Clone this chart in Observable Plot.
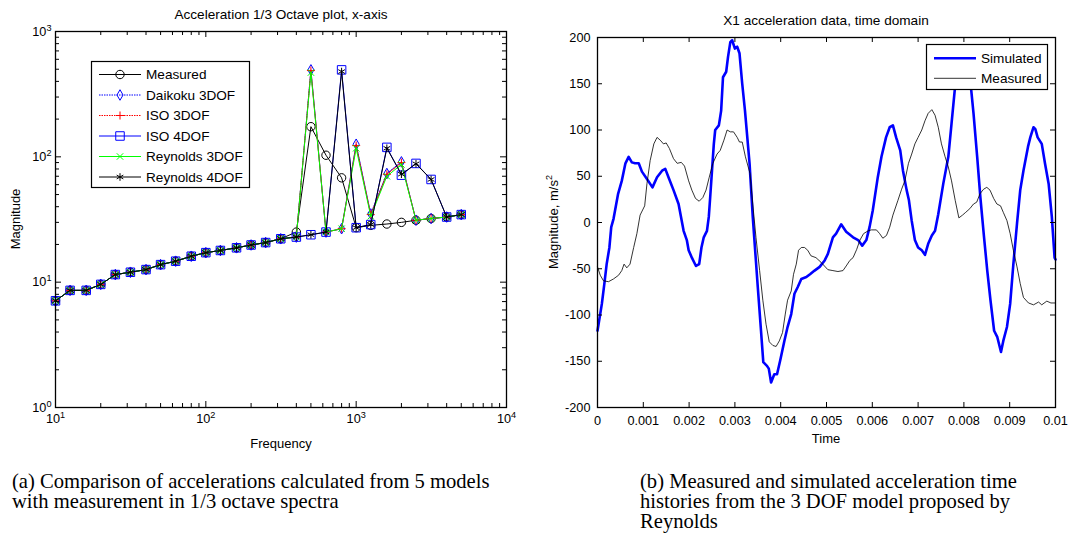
<!DOCTYPE html>
<html><head><meta charset="utf-8">
<script src="https://cdn.jsdelivr.net/npm/d3@7"></script>
<script src="https://cdn.jsdelivr.net/npm/@observablehq/plot@0.6"></script>
<style>
body{margin:0;background:#fff;}
#fig{position:relative;width:1069px;height:535px;overflow:hidden;background:#fff;font-family:"Liberation Sans",Arial,sans-serif;color:#000;}
.abs{position:absolute;white-space:nowrap;}
.ttl{font-size:13.6px;transform:translate(-50%,-50%);}
.lbl{font-size:13px;transform:translate(-50%,-50%);}
.vlbl{font-size:13px;transform:translate(-50%,-50%) rotate(-90deg);}
.cap{font-family:"Liberation Serif","Times New Roman",serif;font-size:20.6px;line-height:20px;}
sup{font-size:0.7em;line-height:0;}
</style></head><body><div id="fig"></div>
<script>
// ---------- Left panel data (1/3 octave spectra) ----------
const freq      = [10,12.5,16,20,25,31.5,40,50,63,80,100,125,160,200,250,315,400,500,630,800,1000,1250,1600,2000,2500,3150,4000,5000];
const measured  = [7.1,8.6,8.6,9.6,11.5,12.0,12.6,13.8,14.7,16.1,17.2,17.9,18.8,19.8,20.7,22.2,25.1,174,103,68,27.2,28.4,29.1,30.0,31.2,32.2,33.1,34.6];
const daikoku3  = [7.1,8.6,8.6,9.6,11.5,12.0,12.6,13.8,14.7,16.1,17.2,17.9,18.8,19.8,20.7,22.2,22.9,494,25.1,26.7,126,35.0,73.6,91.2,31.2,32.2,33.1,34.6];
const iso3      = [7.1,8.6,8.6,9.6,11.5,12.0,12.6,13.8,14.7,16.1,17.2,17.9,18.8,19.8,20.7,22.2,22.9,488,25.1,26.7,123,34.6,72.5,90.0,31.2,32.2,33.1,34.6];
const iso4      = [7.1,8.6,8.6,9.6,11.5,12.0,12.6,13.8,14.7,16.1,17.2,17.9,18.8,19.8,20.7,22.2,22.9,23.9,25.1,494,27.2,28.8,119,71.4,88.6,66.0,33.1,34.6];
const reynolds3 = [7.1,8.6,8.6,9.6,11.5,12.0,12.6,13.8,14.7,16.1,17.2,17.9,18.8,19.8,20.7,22.2,22.9,470,25.1,26.7,117,33.6,70.0,87.0,31.2,32.2,33.1,34.6];
const reynolds4 = [7.1,8.6,8.6,9.6,11.5,12.0,12.6,13.8,14.7,16.1,17.2,17.9,18.8,19.8,20.7,22.2,22.9,23.9,25.1,479,27.2,28.8,117,72.7,88.0,66.0,33.1,34.6];
const freqTicks = [10,100,1000,10000];
const magTicks  = [1,10,100,1000];

// ---------- Right panel data (time domain, time in ms, accel in m/s^2) ----------
const simTimeMs = [0,0.095,0.15,0.2,0.26,0.30,0.35,0.45,0.53,0.61,0.68,0.75,0.82,0.90,0.97,1.08,1.20,1.30,1.41,1.48,1.55,1.66,1.77,1.88,1.95,1.99,2.06,2.15,2.22,2.27,2.32,2.39,2.43,2.46,2.50,2.54,2.57,2.65,2.70,2.74,2.81,2.85,2.90,2.94,3.00,3.05,3.10,3.16,3.22,3.32,3.39,3.50,3.57,3.62,3.70,3.74,3.79,3.86,3.92,3.99,4.08,4.15,4.23,4.30,4.37,4.45,4.56,4.64,4.74,4.85,4.96,5.03,5.14,5.21,5.32,5.43,5.58,5.69,5.78,5.87,5.94,6.01,6.12,6.20,6.30,6.38,6.45,6.52,6.61,6.67,6.75,6.80,6.86,6.93,7.00,7.08,7.15,7.22,7.30,7.37,7.44,7.55,7.66,7.73,7.80,7.88,7.97,8.06,8.16,8.21,8.29,8.36,8.44,8.51,8.58,8.66,8.73,8.81,8.86,8.94,9.01,9.08,9.16,9.23,9.30,9.40,9.45,9.52,9.56,9.61,9.70,9.77,9.85,9.92,9.98,10.0];
const simAccel  = [-117,-88,-66,-45,-27,-5,4,31,45,64,71,65,64,64,55,47,38,49,56,58,49,35,20,-9,-19,-30,-38,-47,-45,-27,-16,-9,6,27,56,85,100,105,121,157,163,179,195,197,188,190,183,150,121,64,6,-70,-117,-151,-155,-158,-173,-164,-164,-149,-128,-113,-99,-77,-70,-61,-59,-56,-52,-48,-41,-34,-16,-12,-2,-10,-16,-19,-25,-19,-5,13,49,71,92,103,105,92,78,56,35,24,2,-19,-27,-30,-35,-23,-14,-9,9,42,71,107,143,172,182,172,143,118,71,27,-16,-52,-84,-117,-124,-140,-128,-113,-88,-45,-1,35,56,82,92,103,101,92,85,64,42,6,-38,-40];
const measTimeMs = [0,0.06,0.13,0.24,0.35,0.46,0.53,0.58,0.64,0.71,0.79,0.86,0.93,1.03,1.08,1.15,1.23,1.30,1.37,1.44,1.50,1.57,1.66,1.74,1.83,1.90,1.99,2.06,2.14,2.22,2.30,2.37,2.44,2.52,2.61,2.68,2.76,2.83,2.90,2.97,3.05,3.10,3.16,3.23,3.33,3.39,3.46,3.54,3.61,3.68,3.75,3.83,3.90,3.97,4.04,4.10,4.15,4.23,4.28,4.34,4.39,4.45,4.52,4.59,4.66,4.77,4.88,5.03,5.14,5.25,5.36,5.43,5.51,5.58,5.66,5.73,5.81,5.91,5.98,6.09,6.16,6.23,6.31,6.38,6.45,6.56,6.64,6.71,6.79,6.86,6.93,7.00,7.08,7.15,7.22,7.30,7.37,7.44,7.51,7.59,7.66,7.73,7.81,7.89,7.97,8.04,8.13,8.21,8.28,8.35,8.43,8.50,8.57,8.65,8.72,8.80,8.86,8.94,9.01,9.08,9.16,9.23,9.30,9.41,9.52,9.63,9.70,9.81,9.90,10.0];
const measAccel  = [-48,-57,-63,-64,-61,-57,-52,-45,-49,-45,-27,-12,8,18,42,67,85,92,89,85,86,80,69,64,65,61,45,35,26,23,27,35,49,64,74,78,89,100,98,98,92,87,87,71,53,20,-16,-52,-84,-110,-129,-133,-134,-128,-119,-99,-84,-74,-56,-45,-30,-27,-27,-30,-36,-38,-43,-51,-52,-53,-52,-47,-41,-38,-29,-19,-12,-9,-8,-8,-12,-17,-14,-5,8,24,36,45,64,74,85,92,100,110,118,122,116,103,85,71,60,45,24,5,8,11,15,20,22,31,36,38,35,26,20,18,11,2,-12,-30,-48,-66,-81,-87,-89,-86,-89,-85,-87,-87];
const timeTicks  = [0,0.001,0.002,0.003,0.004,0.005,0.006,0.007,0.008,0.009,0.01];
const accelTicks = [-200,-150,-100,-50,0,50,100,150,200];

const fig = document.getElementById("fig");
const FONT = "'Liberation Sans', Arial, sans-serif";

function supers(svg){
  d3.select(svg).selectAll("text").each(function(){
    const m = /^10\^(\d+)$/.exec(this.textContent);
    if (m) {
      const el = d3.select(this);
      el.text("10");
      el.append("tspan").attr("dy","-0.55em").attr("font-size","0.72em").text(m[1]);
    }
  });
}
function place(node, left, top){
  node.style.position = "absolute"; node.style.left = left+"px"; node.style.top = top+"px";
  fig.appendChild(node);
}
function addText(cls, html, x, y){
  const d = document.createElement("div");
  d.className = "abs " + cls; d.innerHTML = html;
  d.style.left = x+"px"; d.style.top = y+"px";
  fig.appendChild(d);
}

// ---------------- Left chart ----------------
const series = [
  {name:"Measured",      values:measured,  color:"#000000", symbol:"circle",   r:4.2, dash:null},
  {name:"Daikoku 3DOF",  values:daikoku3,  color:"#0000ff", symbol:"diamond",  r:3.2, dash:"1.5,1"},
  {name:"ISO 3DOF",      values:iso3,      color:"#ff0000", symbol:"plus",     r:2.7, dash:"1.5,1"},
  {name:"ISO 4DOF",      values:iso4,      color:"#0000ff", symbol:"square",   r:4.8, dash:null},
  {name:"Reynolds 3DOF", values:reynolds3, color:"#00ff00", symbol:"times",    r:3.0, dash:null},
  {name:"Reynolds 4DOF", values:reynolds4, color:"#000000", symbol:"asterisk", r:3.6, dash:null}
];
const W1=530, H1=460, mL1=55, mR1=24, mT1=31, mB1=53;
const pW1=W1-mL1-mR1, pH1=H1-mT1-mB1;
const xMinor=[], yMinor=[];
for (const d of [10,100,1000]) for (let k=2;k<=9;k++) xMinor.push(k*d);
for (const d of [1,10,100]) for (let k=2;k<=9;k++) yMinor.push(k*d);

const leftMarks = [];
for (const s of series) {
  const rows = freq.map((f,i)=>({f, v:s.values[i]}));
  leftMarks.push(Plot.line(rows,{x:"f",y:"v",stroke:s.color,strokeWidth:1,strokeDasharray:s.dash}));
  leftMarks.push(Plot.dot(rows,{x:"f",y:"v",symbol:s.symbol,r:s.r,stroke:s.color,fill:"none",strokeWidth:1}));
}
const left = Plot.plot({
  width:W1, height:H1, marginLeft:mL1, marginRight:mR1, marginTop:mT1, marginBottom:mB1,
  style:{fontFamily:FONT, fontSize:"12.7px", background:"transparent", overflow:"visible", color:"#000"},
  x:{type:"log", domain:[10,10000], label:null},
  y:{type:"log", domain:[1,1000], label:null},
  marks:[
    ...leftMarks,
    Plot.tickX(freqTicks,{x:d=>d, insetTop:pH1-6, stroke:"#000"}),
    Plot.tickX(freqTicks,{x:d=>d, insetBottom:pH1-6, stroke:"#000"}),
    Plot.tickX(xMinor,{x:d=>d, insetTop:pH1-4, stroke:"#000"}),
    Plot.tickX(xMinor,{x:d=>d, insetBottom:pH1-4, stroke:"#000"}),
    Plot.tickY(magTicks,{y:d=>d, insetRight:pW1-6, stroke:"#000"}),
    Plot.tickY(magTicks,{y:d=>d, insetLeft:pW1-6, stroke:"#000"}),
    Plot.tickY(yMinor,{y:d=>d, insetRight:pW1-4, stroke:"#000"}),
    Plot.tickY(yMinor,{y:d=>d, insetLeft:pW1-4, stroke:"#000"}),
    Plot.axisX(freqTicks,{tickSize:0, tickPadding:6, tickFormat:d=>"10^"+Math.round(Math.log10(d)), label:null}),
    Plot.axisY(magTicks,{tickSize:0, tickPadding:4, tickFormat:d=>"10^"+Math.round(Math.log10(d)), label:null}),
    Plot.frame({stroke:"#000", strokeWidth:1.3})
  ]
});
supers(left);
place(left, 0, 0);

// ---------------- Right chart ----------------
const W2=529, H2=460, mL2=57, mR2=14, mT2=37, mB2=53;
const pW2=W2-mL2-mR2, pH2=H2-mT2-mB2;
const simRows  = simTimeMs.map((t,i)=>({t:t/1000, a:simAccel[i]}));
const measRows = measTimeMs.map((t,i)=>({t:t/1000, a:measAccel[i]}));
const right = Plot.plot({
  width:W2, height:H2, marginLeft:mL2, marginRight:mR2, marginTop:mT2, marginBottom:mB2,
  style:{fontFamily:FONT, fontSize:"12.7px", background:"transparent", overflow:"visible", color:"#000"},
  x:{domain:[0,0.01], label:null},
  y:{domain:[-200,200], label:null},
  marks:[
    Plot.line(simRows,{x:"t",y:"a",stroke:"#0000ff",strokeWidth:2.6,strokeLinejoin:"round"}),
    Plot.line(measRows,{x:"t",y:"a",stroke:"#000",strokeWidth:0.8,strokeLinejoin:"round"}),
    Plot.tickX(timeTicks,{x:d=>d, insetTop:pH2-5, stroke:"#000"}),
    Plot.tickX(timeTicks,{x:d=>d, insetBottom:pH2-5, stroke:"#000"}),
    Plot.tickY(accelTicks,{y:d=>d, insetRight:pW2-5, stroke:"#000"}),
    Plot.tickY(accelTicks,{y:d=>d, insetLeft:pW2-5, stroke:"#000"}),
    Plot.axisX(timeTicks,{tickSize:0, tickPadding:8, tickFormat:d=>String(+d.toFixed(3)), label:null}),
    Plot.axisY(accelTicks,{tickSize:0, tickPadding:7, tickFormat:d=>String(d), label:null}),
    Plot.frame({stroke:"#000", strokeWidth:1.3})
  ]
});
place(right, 540, 0);

// ---------------- Legends ----------------
function legend(items, left, top, w, h, rowYs){
  const svg = d3.create("svg").attr("width",w).attr("height",h)
    .style("position","absolute").style("left",left+"px").style("top",top+"px").style("overflow","visible");
  svg.append("rect").attr("x",0.5).attr("y",0.5).attr("width",w-1).attr("height",h-1)
    .attr("fill","#fff").attr("stroke","#000").attr("stroke-width",1.2);
  items.forEach((it,i)=>{
    const y = rowYs[i];
    svg.append("line").attr("x1",8).attr("x2",50).attr("y1",y).attr("y2",y)
      .attr("stroke",it.color).attr("stroke-width",it.width||1).attr("stroke-dasharray",it.dash||null);
    if (it.symbol) {
      const sym = {circle:d3.symbolCircle, diamond:d3.symbolDiamond, plus:d3.symbolPlus, square:d3.symbolSquare, times:d3.symbolTimes, asterisk:d3.symbolAsterisk}[it.symbol];
      svg.append("path").attr("d", d3.symbol(sym, Math.PI*it.r*it.r)()).attr("transform",`translate(29,${y})`)
        .attr("fill","none").attr("stroke",it.color).attr("stroke-width",1);
    }
    svg.append("text").attr("x",55).attr("y",y).attr("dy","0.35em")
      .attr("font-family",FONT).attr("font-size","13.6px").text(it.name);
  });
  fig.appendChild(svg.node());
}
legend(series.map(s=>({name:s.name,color:s.color,symbol:s.symbol,r:s.r,dash:s.dash})), 91, 61, 159, 127, [13.5,34,54.5,75,95.5,116]);
legend([{name:"Simulated",color:"#0000ff",width:2.6},{name:"Measured",color:"#000",width:0.8}], 926, 44, 122, 46, [14.3,34.3]);

// ---------------- Titles, labels, captions ----------------
addText("ttl","Acceleration 1/3 Octave plot, x-axis", 281, 14);
addText("ttl","X1 acceleration data, time domain", 826, 20);
addText("lbl","Frequency", 281, 443);
addText("lbl","Time", 826, 438);
addText("vlbl","Magnitude", 15, 219);
addText("vlbl","Magnitude, m/s<sup>2</sup>", 553, 222);
const capA = document.createElement("div");
capA.className="abs cap"; capA.style.left="12px"; capA.style.top="471px";
capA.innerHTML="(a) Comparison of accelerations calculated from 5 models<br>with measurement in 1/3 octave spectra";
fig.appendChild(capA);
const capB = document.createElement("div");
capB.className="abs cap"; capB.style.left="640px"; capB.style.top="471px";
capB.innerHTML="(b) Measured and simulated acceleration time<br>histories from the 3 DOF model proposed by<br>Reynolds";
fig.appendChild(capB);
</script></body></html>
